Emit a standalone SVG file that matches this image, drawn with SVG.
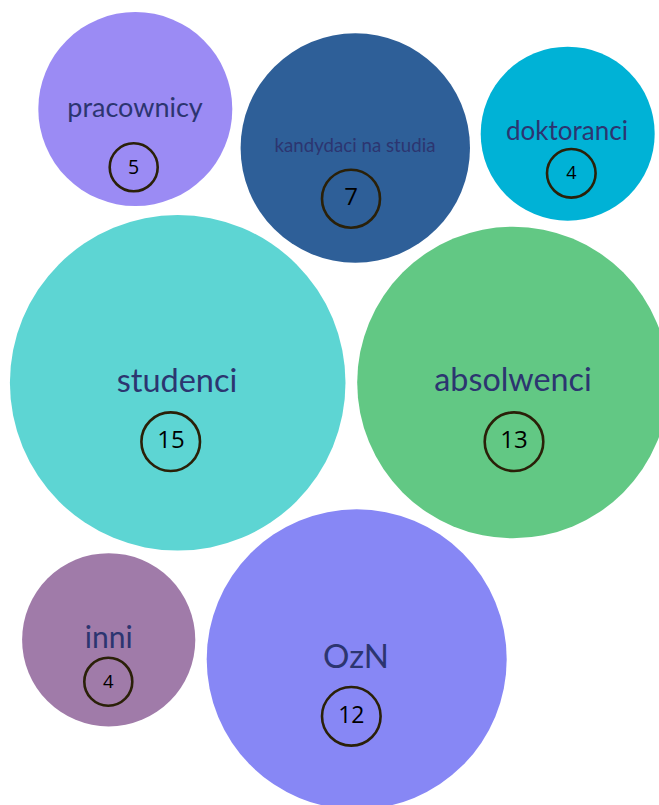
<svg xmlns="http://www.w3.org/2000/svg" width="659" height="805" viewBox="0 0 659 805">
<style>
.lbl{font-family:Lato,"Open Sans","DejaVu Sans",sans-serif;fill:#2c3570;text-anchor:middle}
.ring{fill:none;stroke:#2a2008;stroke-width:2.6}
.num{font-family:"Open Sans","Noto Sans",sans-serif;fill:#000;text-anchor:middle}
</style>
<rect width="659" height="805" fill="#fff"/>
<g id="connectors"></g>
<g id="pracownicy">
<circle cx="135.3" cy="109" r="97" fill="#9b8bf4"/>
<text class="lbl" x="135" y="116.7" font-size="27">pracownicy</text>
<circle class="ring" cx="133.7" cy="167.3" r="24"/>
<text class="num" x="133.7" y="173.6" font-size="19.5">5</text>
</g>
<g id="kandydaci">
<circle cx="355.3" cy="148" r="114.7" fill="#2e5f98"/>
<text class="lbl" x="355" y="152.3" font-size="18.7">kandydaci na studia</text>
<circle class="ring" cx="351" cy="198.7" r="29"/>
<text class="num" x="351" y="205.2" font-size="24">7</text>
</g>
<g id="doktoranci">
<circle cx="567.7" cy="133.7" r="87" fill="#00b2d6"/>
<text class="lbl" x="567" y="140" font-size="26">doktoranci</text>
<circle class="ring" cx="571.3" cy="173.3" r="24.3"/>
<text class="num" x="571.3" y="179" font-size="18">4</text>
</g>
<g id="studenci">
<circle cx="177.7" cy="382.8" r="167.8" fill="#5dd5d3"/>
<text class="lbl" x="177" y="391.7" font-size="32.5">studenci</text>
<circle class="ring" cx="170.7" cy="441.7" r="29.3"/>
<text class="num" x="171" y="448.3" font-size="24">15</text>
</g>
<g id="absolwenci">
<circle cx="513" cy="382.5" r="155.8" fill="#62c884"/>
<text class="lbl" x="513" y="391" font-size="32.3">absolwenci</text>
<circle class="ring" cx="514" cy="441.7" r="29.3"/>
<text class="num" x="514" y="448.3" font-size="24">13</text>
</g>
<g id="inni">
<circle cx="108.7" cy="639.8" r="86.6" fill="#a07ba9"/>
<text class="lbl" x="108.8" y="647.7" font-size="30">inni</text>
<circle class="ring" cx="108.3" cy="681.7" r="24"/>
<text class="num" x="108.3" y="687.6" font-size="18.5">4</text>
</g>
<g id="OzN">
<circle cx="356.7" cy="659.3" r="150" fill="#8787f5"/>
<text class="lbl" x="356" y="668.3" font-size="33">OzN</text>
<circle class="ring" cx="351.3" cy="716.3" r="29.3"/>
<text class="num" x="351.3" y="722.7" font-size="23">12</text>
</g>
</svg>
